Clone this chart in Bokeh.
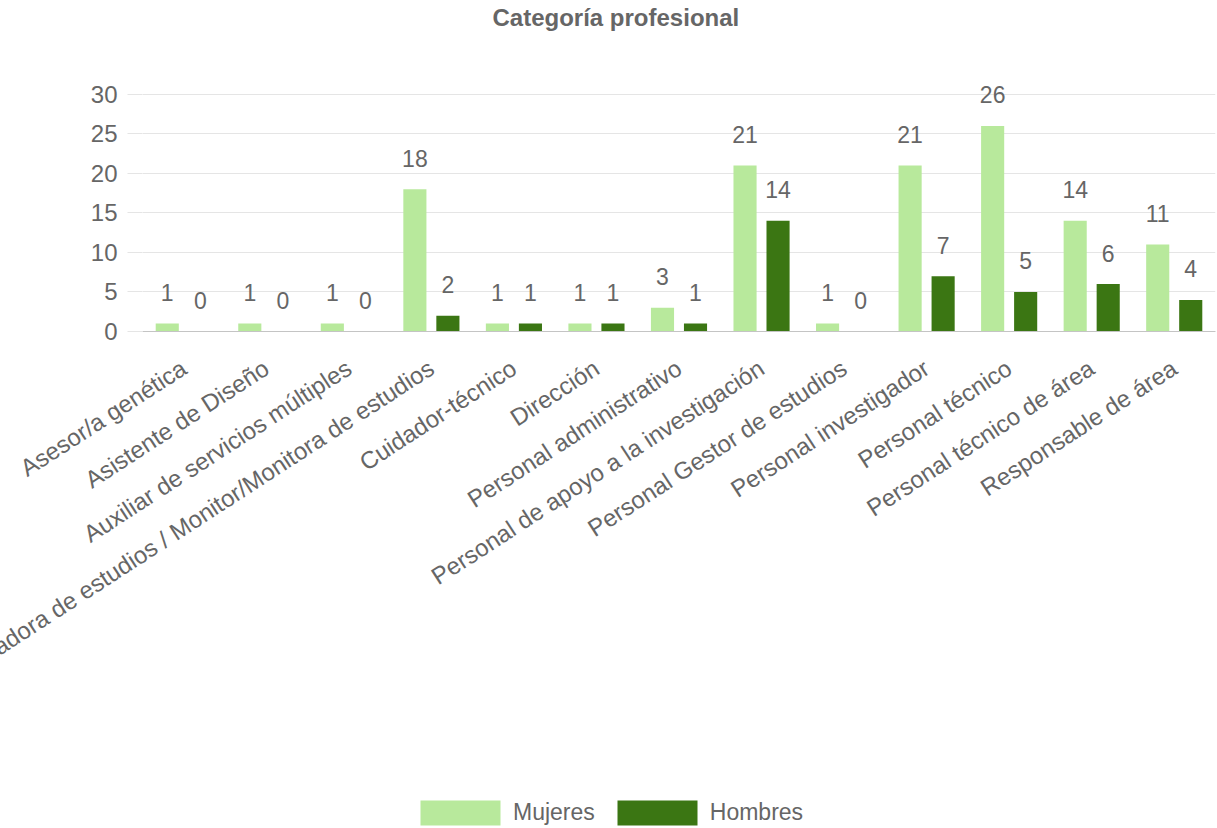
import math
from bokeh.plotting import figure
from bokeh.layouts import column
from bokeh.models import ColumnDataSource, FactorRange, FixedTicker, Legend, LegendItem, Range1d, Title
from bokeh.transform import dodge
from bokeh.core.properties import value
from bokeh.embed import file_html
from bokeh.resources import INLINE

categories = [
    "Asesor/a genética",
    "Asistente de Diseño",
    "Auxiliar de servicios múltiples",
    "Coordinadora de estudios / Monitor/Monitora de estudios",
    "Cuidador-técnico",
    "Dirección",
    "Personal administrativo",
    "Personal de apoyo a la investigación",
    "Personal Gestor de estudios",
    "Personal investigador",
    "Personal técnico",
    "Personal técnico de área",
    "Responsable de área",
]
mujeres = [1, 1, 1, 18, 1, 1, 3, 21, 1, 21, 26, 14, 11]
hombres = [0, 0, 0, 2, 1, 1, 1, 14, 0, 7, 5, 6, 4]
y_ticks = [0, 5, 10, 15, 20, 25, 30]
series_names = ["Mujeres", "Hombres"]

FONT = "Liberation Sans"
TXT = "#666666"
C_M = "#b8e99c"
C_H = "#3b7613"

src = ColumnDataSource(dict(
    cat=categories, m=mujeres, h=hombres,
    ml=[str(v) for v in mujeres], hl=[str(v) for v in hombres],
))

# y range reaches a little above the top tick so value labels are not clipped
p = figure(
    x_range=FactorRange(*categories), y_range=Range1d(0, 32),
    width=1217, height=790, output_backend="svg", toolbar_location=None,
    min_border_left=142, min_border_right=2, min_border_top=78, min_border_bottom=459,
)
p.outline_line_color = None
p.background_fill_color = "white"

# spacer between frame and title, so that the title sits at the top of the canvas
p.add_layout(Title(text=" ", text_font_size="1px", standoff=45), "above")

p.title.text = "Categoría profesional"
p.title.align = "left"
p.title.offset = 350
p.title.standoff = 0
p.title.text_font = FONT
p.title.text_font_size = "24px"
p.title.text_font_style = "bold"
p.title.text_color = TXT

p.xgrid.grid_line_color = None
p.ygrid.grid_line_color = "#e5e5e5"
p.ygrid.ticker = FixedTicker(ticks=y_ticks)

p.yaxis.ticker = FixedTicker(ticks=y_ticks)
p.yaxis.axis_line_color = None
p.yaxis.major_tick_out = 15
p.yaxis.major_tick_in = 0
p.yaxis.major_tick_line_color = "#e5e5e5"
p.yaxis.minor_tick_line_color = None
p.yaxis.major_label_standoff = 10
p.yaxis.major_label_text_font = FONT
p.yaxis.major_label_text_font_size = "24px"
p.yaxis.major_label_text_color = TXT

p.xaxis.axis_line_color = "#c4c4c4"
p.xaxis.major_tick_line_color = None
p.xaxis.minor_tick_line_color = None
p.xaxis.major_label_orientation = math.radians(33)
p.xaxis.major_label_standoff = 28
p.xaxis.major_label_text_font = FONT
p.xaxis.major_label_text_font_size = "24px"
p.xaxis.major_label_text_color = TXT

p.vbar(x=dodge("cat", -0.2, range=p.x_range), top="m", width=0.28, source=src,
       fill_color=C_M, line_color=None)
p.vbar(x=dodge("cat", 0.2, range=p.x_range), top="h", width=0.28, source=src,
       fill_color=C_H, line_color=None)

for off, col in ((-0.2, "m"), (0.2, "h")):
    p.text(x=dodge("cat", off, range=p.x_range), y=col, text=col + "l", source=src,
           text_align="center", text_baseline="alphabetic", y_offset=-31,
           text_font=value(FONT), text_font_size="23px", text_color=TXT)

# legend strip below the chart (its frame is aligned with the chart's frame)
lg = figure(width=1217, height=38, output_backend="svg", toolbar_location=None,
            x_range=Range1d(0, 1), y_range=Range1d(0, 1),
            x_axis_type=None, y_axis_type=None,
            min_border_left=0, min_border_right=0, min_border_top=0, min_border_bottom=0)
lg.outline_line_color = None
lg.grid.grid_line_color = None
nan = float("nan")
keys = ColumnDataSource(dict(x=[nan], top=[nan]))
k1 = lg.vbar(x="x", top="top", width=0.1, source=keys, fill_color=C_M, line_color=None)
k2 = lg.vbar(x="x", top="top", width=0.1, source=keys, fill_color=C_H, line_color=None)
legend = Legend(
    items=[LegendItem(label=series_names[0], renderers=[k1]),
           LegendItem(label=series_names[1], renderers=[k2])],
    orientation="horizontal", location=(268, 0),
    glyph_width=100, glyph_height=31, label_standoff=3, spacing=12,
    padding=0, margin=0, border_line_color=None, background_fill_alpha=0,
    label_text_font=FONT, label_text_font_size="23px", label_text_color=TXT,
)
lg.add_layout(legend)

open("out.html", "w").write(file_html(column(p, lg, spacing=0), INLINE))
